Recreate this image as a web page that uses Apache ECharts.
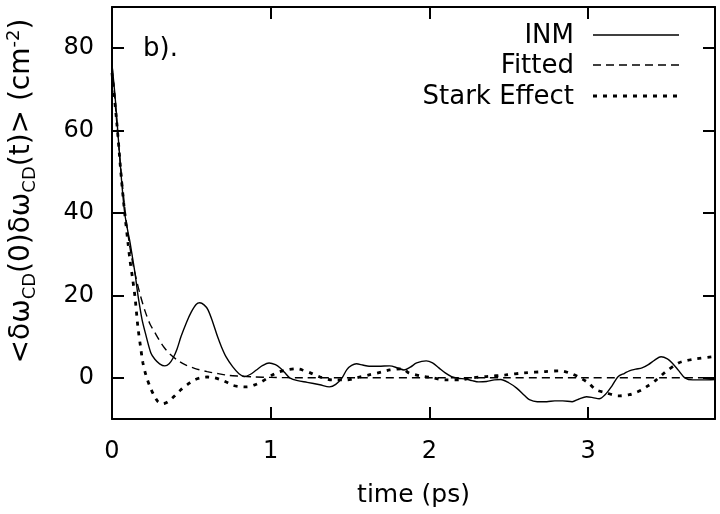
<!DOCTYPE html>
<html>
<head>
<meta charset="utf-8">
<script src="https://cdn.jsdelivr.net/npm/echarts@6/dist/echarts.min.js"></script>
<style>html,body{margin:0;padding:0;background:#fff;}#c{width:720px;height:514px;}</style>
</head>
<body>
<div id="c"></div>
<script>
// ---- data ----
var xTicks = [0, 1, 2, 3];
var yTicks = [0, 20, 40, 60, 80];

var inmT = [0,0.02,0.04,0.06,0.08,0.1,0.113,0.13,0.145,0.16,0.175,0.19,0.21,0.245,0.27,0.3,0.333,0.36,0.385,0.41,0.435,0.47,0.5,0.53,0.553,0.58,0.605,0.635,0.665,0.69,0.72,0.76,0.8,0.836,0.87,0.91,0.95,0.99,1.03,1.06,1.09,1.12,1.17,1.23,1.31,1.37,1.41,1.45,1.48,1.51,1.54,1.58,1.62,1.68,1.75,1.8,1.84,1.88,1.92,1.98,2.02,2.06,2.1,2.14,2.18,2.23,2.27,2.31,2.36,2.41,2.45,2.5,2.55,2.6,2.63,2.68,2.74,2.79,2.84,2.9,2.94,2.99,3.03,3.07,3.11,3.15,3.19,3.23,3.26,3.3,3.34,3.38,3.42,3.46,3.5,3.53,3.57,3.61,3.66,3.72,3.8];
var inmV = [76,68,58,48,40,35.5,33,29,25.4,21,17.3,14,10.9,6,4.5,3.4,2.9,3.4,4.8,7,10,13.5,16,17.8,18.2,17.7,16.5,13.5,10,7.5,5,2.7,1.0,0.3,0.8,1.9,3,3.6,3.2,2.4,1.2,0,-0.7,-1.1,-1.7,-2.2,-1.6,0,2.0,3.0,3.4,3.1,2.8,2.8,2.9,2.4,1.9,2.6,3.6,4.1,3.6,2.4,1.2,0.3,-0.1,-0.3,-0.7,-1,-0.9,-0.5,-0.4,-1.2,-2.5,-4.3,-5.3,-5.8,-5.8,-5.6,-5.6,-5.8,-5.2,-4.6,-4.8,-5.1,-4,-2,0.3,1.1,1.7,2.1,2.4,3.2,4.3,5.1,4.6,3.6,1.8,0,-0.5,-0.5,-0.4];

var fitT = [0,0.03,0.06,0.09,0.12,0.15,0.18,0.21,0.24,0.27,0.3,0.33,0.37,0.415,0.46,0.52,0.6,0.67,0.73,0.8,0.9,1.0,1.2,1.6,2.0,2.5,3.0,3.5,3.8];
var fitV = [76,62,49,38,30,24.5,19.8,16,13,11,9,7.3,5.6,4.2,3.2,2.3,1.5,1,0.6,0.4,0.2,0.1,0,0,0,0,0,0,0];

var starkT = [0,0.03,0.06,0.08,0.1,0.113,0.13,0.145,0.163,0.18,0.195,0.215,0.24,0.265,0.29,0.32,0.345,0.37,0.4,0.434,0.48,0.52,0.56,0.6,0.645,0.686,0.73,0.76,0.8,0.85,0.9,0.93,0.97,1.01,1.05,1.1,1.16,1.2,1.25,1.31,1.39,1.48,1.54,1.62,1.7,1.75,1.83,1.87,1.94,2.02,2.1,2.2,2.27,2.36,2.48,2.6,2.73,2.82,2.88,2.94,3.0,3.05,3.11,3.19,3.26,3.3,3.34,3.38,3.43,3.49,3.57,3.62,3.68,3.78,3.8];
var starkV = [74,62,48,40,33,28.6,24,19.6,12.4,7.5,3.6,0.5,-2.2,-4.3,-5.8,-6.3,-6,-5.3,-4.2,-2.9,-1.5,-0.5,0,0.2,0,-0.5,-1.2,-1.8,-2.1,-2.2,-1.7,-1.2,-0.3,0.7,1.4,1.9,2.2,1.9,1.2,0.2,-0.5,-0.5,0,0.7,1.4,1.9,2.2,1.2,0.5,0,-0.5,-0.5,0,0.3,0.7,1.2,1.5,1.7,1.2,0.2,-1.2,-2.9,-3.6,-4.4,-4.1,-3.6,-2.9,-1.9,-0.5,1.5,3.6,4.2,4.6,5.1,5.2];

var legendNames = ['INM', 'Fitted', 'Stark Effect'];

function zip(a, b) { var r = []; for (var i = 0; i < a.length; i++) r.push([a[i], b[i]]); return r; }

var FONT = 'DejaVu Sans';
var styles = [
  {color:'#000', width:1.4, type:'solid'},
  {color:'#000', width:1.4, type:[8,5]},
  {color:'#000', width:2.8, type:[4,6], cap:'butt'}
];

var chart = echarts.init(document.getElementById('c'), null, {renderer:'canvas'});

var graphics = [];
var legY = [36, 66, 97];
for (var i = 0; i < legendNames.length; i++) {
  graphics.push({type:'text', x:574, y:legY[i], style:{text:legendNames[i], font:'26px "' + FONT + '"', fill:'#000', align:'right', verticalAlign:'middle'}});
  graphics.push({type:'line', shape:{x1:593, y1:legY[i]-1, x2:679, y2:legY[i]-1}, style:{stroke:'#000', lineWidth:styles[i].width, lineDash:(styles[i].type==='solid'?null:styles[i].type), lineCap:'butt'}});
}
graphics.push({type:'text', x:143, y:49, style:{text:'b).', font:'26px "' + FONT + '"', fill:'#000', align:'left', verticalAlign:'middle'}});
graphics.push({
  type:'text', x:22, y:191, rotation:Math.PI/2,
  style:{
    text:'<δω{s|CD}(0)δω{s|CD}(t)> (cm{p|-2})',
    fontFamily:FONT, fontSize:28, fill:'#000', align:'center', verticalAlign:'middle', lineHeight:34,
    rich:{
      s:{fontFamily:FONT, fontSize:18, lineHeight:18, verticalAlign:'bottom', fill:'#000'},
      p:{fontFamily:FONT, fontSize:18, lineHeight:18, verticalAlign:'top', fill:'#000'}
    }
  }
});

function axLine() { return {show:true, onZero:false, lineStyle:{color:'#000', width:2}}; }
function axTick(vals) { return {show:true, inside:true, length:12, customValues:vals, lineStyle:{color:'#000', width:2}}; }

var option = {
  animation:false,
  backgroundColor:'#fff',
  grid:{left:112, right:5, top:7, bottom:95, show:false},
  xAxis:[
    {type:'value', min:0, max:3.8, position:'bottom',
     name:'time (ps)', nameLocation:'middle', nameGap:64,
     nameTextStyle:{fontFamily:FONT, fontSize:25, color:'#000'},
     axisLine:axLine(), splitLine:{show:false},
     axisTick:axTick(xTicks),
     axisLabel:{customValues:xTicks, fontFamily:FONT, fontSize:24, color:'#000', margin:21}},
    {type:'value', min:0, max:3.8, position:'top',
     axisLine:axLine(), splitLine:{show:false},
     axisTick:axTick(xTicks),
     axisLabel:{show:false}}
  ],
  yAxis:[
    {type:'value', min:-10, max:90, position:'left',
     axisLine:axLine(), splitLine:{show:false},
     axisTick:axTick(yTicks),
     axisLabel:{customValues:yTicks, fontFamily:FONT, fontSize:24, color:'#000', margin:18}},
    {type:'value', min:-10, max:90, position:'right',
     axisLine:axLine(), splitLine:{show:false},
     axisTick:axTick(yTicks),
     axisLabel:{show:false}}
  ],
  series:[
    {name:legendNames[0], type:'line', data:zip(inmT, inmV), showSymbol:false, smooth:0.3, lineStyle:styles[0], z:3},
    {name:legendNames[1], type:'line', data:zip(fitT, fitV), showSymbol:false, smooth:0.3, lineStyle:styles[1], z:2},
    {name:legendNames[2], type:'line', data:zip(starkT, starkV), showSymbol:false, smooth:0.3, lineStyle:styles[2], z:4}
  ],
  graphic:graphics
};
chart.setOption(option);
</script>
</body>
</html>
